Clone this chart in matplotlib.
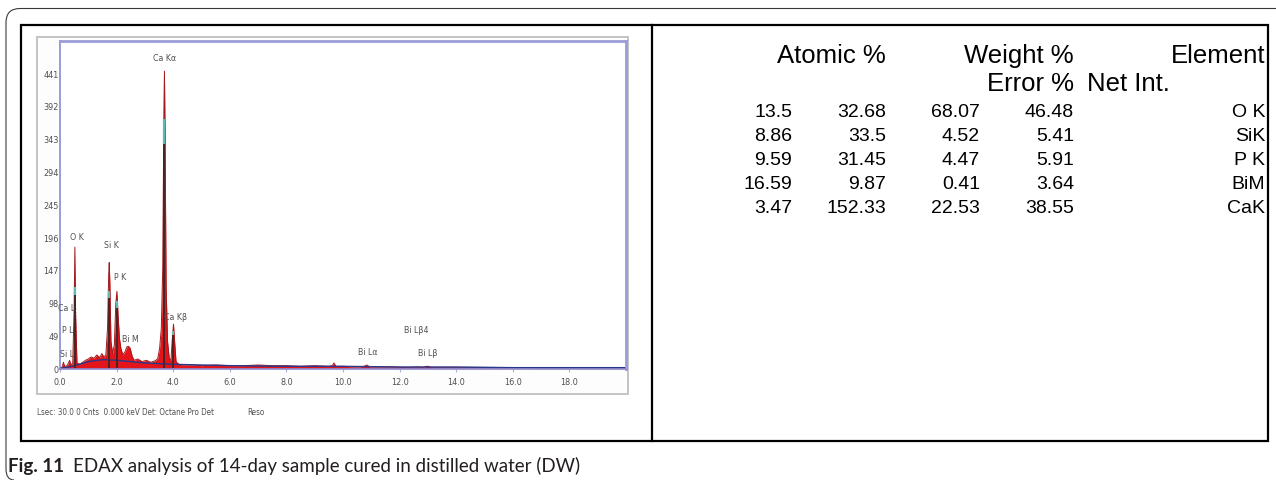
import matplotlib
matplotlib.use("Agg")
import matplotlib.pyplot as plt
from matplotlib.patches import Rectangle, PathPatch
from matplotlib.path import Path
from matplotlib import font_manager

W, H = 1276, 481

# EDAX spectrum (keV, counts)
energy_kev = [0.0, 0.08, 0.12, 0.16, 0.25, 0.30, 0.34, 0.38, 0.45, 0.50, 0.525, 0.55, 0.60,
              0.70, 0.80, 0.90, 1.00, 1.10, 1.20, 1.30, 1.40, 1.48, 1.55, 1.62, 1.68, 1.72,
              1.74, 1.76, 1.80, 1.86, 1.92, 1.97, 2.01, 2.05, 2.10, 2.15, 2.22, 2.30, 2.36,
              2.42, 2.48, 2.55, 2.62, 2.75, 2.90, 3.05, 3.20, 3.35, 3.45, 3.52, 3.58, 3.63,
              3.67, 3.69, 3.71, 3.75, 3.80, 3.86, 3.92, 3.97, 4.01, 4.05, 4.10, 4.20, 4.40,
              4.70, 5.0, 5.5, 6.0, 6.5, 7.0, 7.5, 8.0, 8.5, 9.0, 9.5, 9.62, 9.68, 9.75, 10.0,
              10.5, 10.75, 10.84, 10.95, 11.3, 11.8, 12.3, 12.6, 12.7, 12.8, 12.95, 13.02,
              13.1, 13.5, 14.0, 15.0, 16.0, 17.0, 18.0, 19.0, 20.0]
counts = [0, 2, 9, 3, 4, 8, 12, 5, 8, 90, 181, 80, 8,
          6, 9, 12, 14, 17, 15, 20, 16, 22, 17, 20, 60, 140,
          158, 130, 40, 22, 35, 95, 115, 80, 45, 30, 20, 25, 32,
          33, 30, 18, 12, 14, 10, 12, 9, 11, 14, 30, 60, 150,
          380, 444, 360, 120, 40, 15, 12, 45, 66, 40, 10, 6, 5,
          5, 4, 5, 4, 4, 5, 4, 4, 3, 4, 3, 4, 8, 3, 3,
          2, 3, 5, 2, 2, 2, 1, 2, 2, 1, 3, 3,
          1, 1, 1, 1, 1, 0, 0, 0, 0]

# continuum fit (blue line)
bg_kev = [0.0, 0.3, 0.6, 1.0, 1.5, 2.0, 2.5, 3.0, 3.5, 4.0, 5.0, 6.0, 8.0, 10.0, 12.0, 14.0, 16.0, 20.0]
bg_counts = [0, 2, 5, 10, 13, 12, 10, 8, 7, 6, 5, 4, 3, 3, 2, 2, 1, 1]

# fitted peak heights (dark columns, teal tip)
fit_kev = [0.525, 1.74, 2.01, 3.69, 4.01]
fit_counts = [122, 116, 100, 372, 56]

peak_labels = ["Ca K\u03b1", "O K", "Si K", "P K", "Ca L", "P L", "Si L", "Bi M",
               "Ca K\u03b2", "Bi L\u03b1", "Bi L\u03b24", "Bi L\u03b2"]
peak_label_kev = [3.69, 0.6, 1.83, 2.12, 0.22, 0.28, 0.24, 2.5, 4.08, 10.86, 12.6, 13.0]
peak_label_counts = [465, 197, 185, 137, 91, 58, 22, 45, 78, 25, 58, 24]

ytick_vals = [0, 49, 98, 147, 196, 245, 294, 343, 392, 441]
xtick_vals = [0, 2, 4, 6, 8, 10, 12, 14, 16, 18]
xtick_labels = ["0.0", "2.0", "4.0", "6.0", "8.0", "10.0", "12.0", "14.0", "16.0", "18.0"]

footer = "Lsec: 30.0 0 Cnts  0.000 keV Det: Octane Pro Det"

# quantification table, as printed
head_row1 = ["Atomic %", "Weight %", "Element"]
head_row2 = ["Error %", "Net Int."]
col1 = ["13.5", "8.86", "9.59", "16.59", "3.47"]
col2 = ["32.68", "33.5", "31.45", "9.87", "152.33"]
col3 = ["68.07", "4.52", "4.47", "0.41", "22.53"]
col4 = ["46.48", "5.41", "5.91", "3.64", "38.55"]
elements = ["O K", "SiK", "P K", "BiM", "CaK"]

caption_bold = "Fig. 11"
caption_text = "EDAX analysis of 14-day sample cured in distilled water (DW)"

names = {f.name for f in font_manager.fontManager.ttflist}
small_font = ["Liberation Sans Narrow", "DejaVu Sans"] if "Liberation Sans Narrow" in names else ["DejaVu Sans"]
table_font = ["Liberation Sans", "DejaVu Sans"]
cap_font = ["Lato", "DejaVu Sans"]
small = dict(family=small_font, stretch="condensed", color="#505050")


def fx(x):
    return x / W


def fy(y):
    return 1 - y / H


fig = plt.figure(figsize=(W / 100, H / 100), dpi=100)

# outer rounded frame
r = 14
verts = [(W, 9.5), (6 + r, 9.5), (6, 9.5), (6, 9.5 + r), (6, 470), (6, 481), (14, 481)]
codes = [Path.MOVETO, Path.LINETO, Path.CURVE3, Path.CURVE3, Path.LINETO, Path.CURVE3, Path.CURVE3]
verts = [(fx(a), fy(b)) for a, b in verts]
fig.add_artist(PathPatch(Path(verts, codes), transform=fig.transFigure, fill=False,
                         edgecolor="#3a3a3a", lw=0.8))

# black table box and divider
fig.add_artist(Rectangle((fx(20.5), fy(442)), (1268 - 20.5) / W, (442 - 25.5) / H,
                         transform=fig.transFigure, fill=False, edgecolor="black", lw=1.6))
fig.add_artist(plt.Line2D([fx(652), fx(652)], [fy(25.5), fy(442)], transform=fig.transFigure,
                          color="black", lw=1.6))

# grey panel of the screenshot, kept behind the axes
panel = Rectangle((fx(37), fy(395)), (628 - 37) / W, (395 - 38) / H,
                  transform=fig.transFigure, facecolor="#fdfdfd", edgecolor="#c4c4c4", lw=1.4, zorder=-5)
fig.add_artist(panel)

ax = fig.add_axes([fx(60), fy(370), (626 - 60) / W, (370 - 42) / H], zorder=2)
ax.set_facecolor("white")
ax.fill_between(energy_kev, counts, color="#e3151a", lw=0)
ax.plot(energy_kev, counts, color="#a3181b", lw=0.7)
ax.plot(bg_kev, bg_counts, color="#28378a", lw=1.0)
ax.vlines(fit_kev, 0, fit_counts, color="#4a2424", lw=1.4)
ax.vlines(fit_kev, [c * 0.9 for c in fit_counts], fit_counts, color="#5fbab2", lw=1.6)
ax.vlines([0.525], 0, 90, color="#333333", lw=1.0, linestyles=":")

for lab, xk, yc in zip(peak_labels, peak_label_kev, peak_label_counts):
    ax.text(xk, yc, lab, ha="center", va="center", fontsize=6.3, zorder=6, **small)

ax.set_xlim(0, 20)
ax.set_ylim(-1, 489)
ax.set_yticks(ytick_vals)
ax.set_yticklabels([str(v) for v in ytick_vals])
ax.set_xticks(xtick_vals)
ax.set_xticklabels(xtick_labels)
ax.tick_params(axis="y", length=0, pad=1, labelsize=6.5, labelcolor="#505050")
ax.tick_params(axis="x", length=2, pad=4, labelsize=6.5, labelcolor="#505050", color="#b0b0d0")
for lab in ax.get_xticklabels() + ax.get_yticklabels():
    lab.set_family(small_font)
    lab.set_stretch("condensed")
for side in ["left", "bottom"]:
    ax.spines[side].set_color("#8a8ad0")
    ax.spines[side].set_linewidth(1.2)
for side in ["top", "right"]:
    ax.spines[side].set_color("#9c9cd8")
    ax.spines[side].set_linewidth(2.0)

fig.text(fx(37), fy(415), footer, fontsize=5.8, va="baseline", **small)
fig.text(fx(247), fy(415), "Reso", fontsize=5.8, va="baseline", **small)

# table text
for txt, xr in zip(head_row1, [886, 1074, 1265]):
    fig.text(fx(xr), fy(63), txt, ha="right", va="baseline", fontsize=18.5, family=table_font)
fig.text(fx(1074), fy(91), head_row2[0], ha="right", va="baseline", fontsize=18.5, family=table_font)
fig.text(fx(1087), fy(91), head_row2[1], ha="left", va="baseline", fontsize=18.5, family=table_font)
for i in range(len(elements)):
    yb = 117 + 24 * i
    for col, xr in zip([col1, col2, col3, col4, elements], [792, 886, 980, 1074, 1265]):
        fig.text(fx(xr), fy(yb), col[i], ha="right", va="baseline", fontsize=14, family=table_font)

# caption
t = fig.text(fx(8), fy(472), caption_bold, fontsize=13.5, weight="bold", family=cap_font,
             color="#231f20", va="baseline")
fig.canvas.draw()
bb = t.get_window_extent()
fig.text((bb.x1 + 9) / W, fy(472), caption_text, fontsize=13.5, family=cap_font,
         color="#231f20", va="baseline")

fig.savefig("out.png", dpi=100)
